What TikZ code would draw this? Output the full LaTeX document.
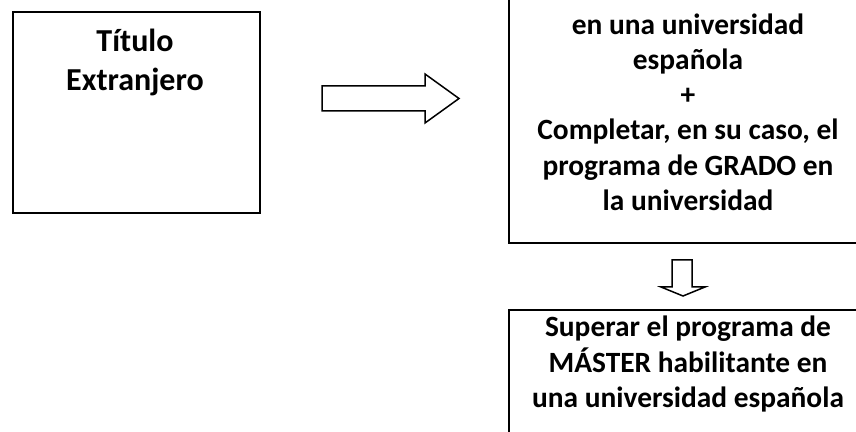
\documentclass[tikz,border=0pt]{standalone}
\usepackage{fontspec}
\setmainfont{Carlito}
\usetikzlibrary{positioning}

\tikzset{
  box/.style={draw, line width=1pt, inner sep=0pt, anchor=north west},
  txt/.style={align=center, inner sep=0pt, font=\bfseries\fontsize{14.7}{17.6}\selectfont},
  bigtxt/.style={txt, font=\bfseries\fontsize{16}{19.5}\selectfont},
  hollow/.style={draw, line width=0.75pt, fill=white, line join=miter},
}

\begin{document}
\begin{tikzpicture}[x=0.5pt, y=-0.5pt]
        \useasboundingbox (0,0) rectangle (856,432);
        \clip (0,0) rectangle (856,432);

        % boxes
        \node[box, minimum width=123.5pt, minimum height=100.5pt] (ext) at (12,11) {};
        \node[box, minimum width=186pt, minimum height=161pt] (grado) at (508,-80) {};
        \node[box, minimum width=186pt, minimum height=100pt] (master) at (508,309) {};

        % texts
        \node[bigtxt] (exttxt) at (135,62) {Título\\Extranjero};
        \node[txt] (gradotxt) at (688,112) {en una universidad\\española\\+\\Completar, en su caso, el\\programa de GRADO en\\la universidad};
        \node[txt] (mastertxt) at (688,364) {Superar el programa de\\MÁSTER habilitante en\\una universidad española};

        % hollow arrows
        \coordinate (r0) at (322,98.5);
        \coordinate (r1) at (459,98.5);
        \draw[hollow] (r0) ++(0,-12.5) -- ++(103,0) -- ++(0,-12) -- (r1)
            -- ++(-34,24.5) -- ++(0,-12) -- ++(-103,0) -- cycle;

        \coordinate (d0) at (682,260);
        \coordinate (d1) at (683,296);
        \draw[hollow] (d0) ++(-10,0) -- ++(20,0) -- ++(0,27) -- ++(13,0) -- (d1)
            -- ++(-22,-9) -- ++(11,0) -- cycle;
\end{tikzpicture}
\end{document}
